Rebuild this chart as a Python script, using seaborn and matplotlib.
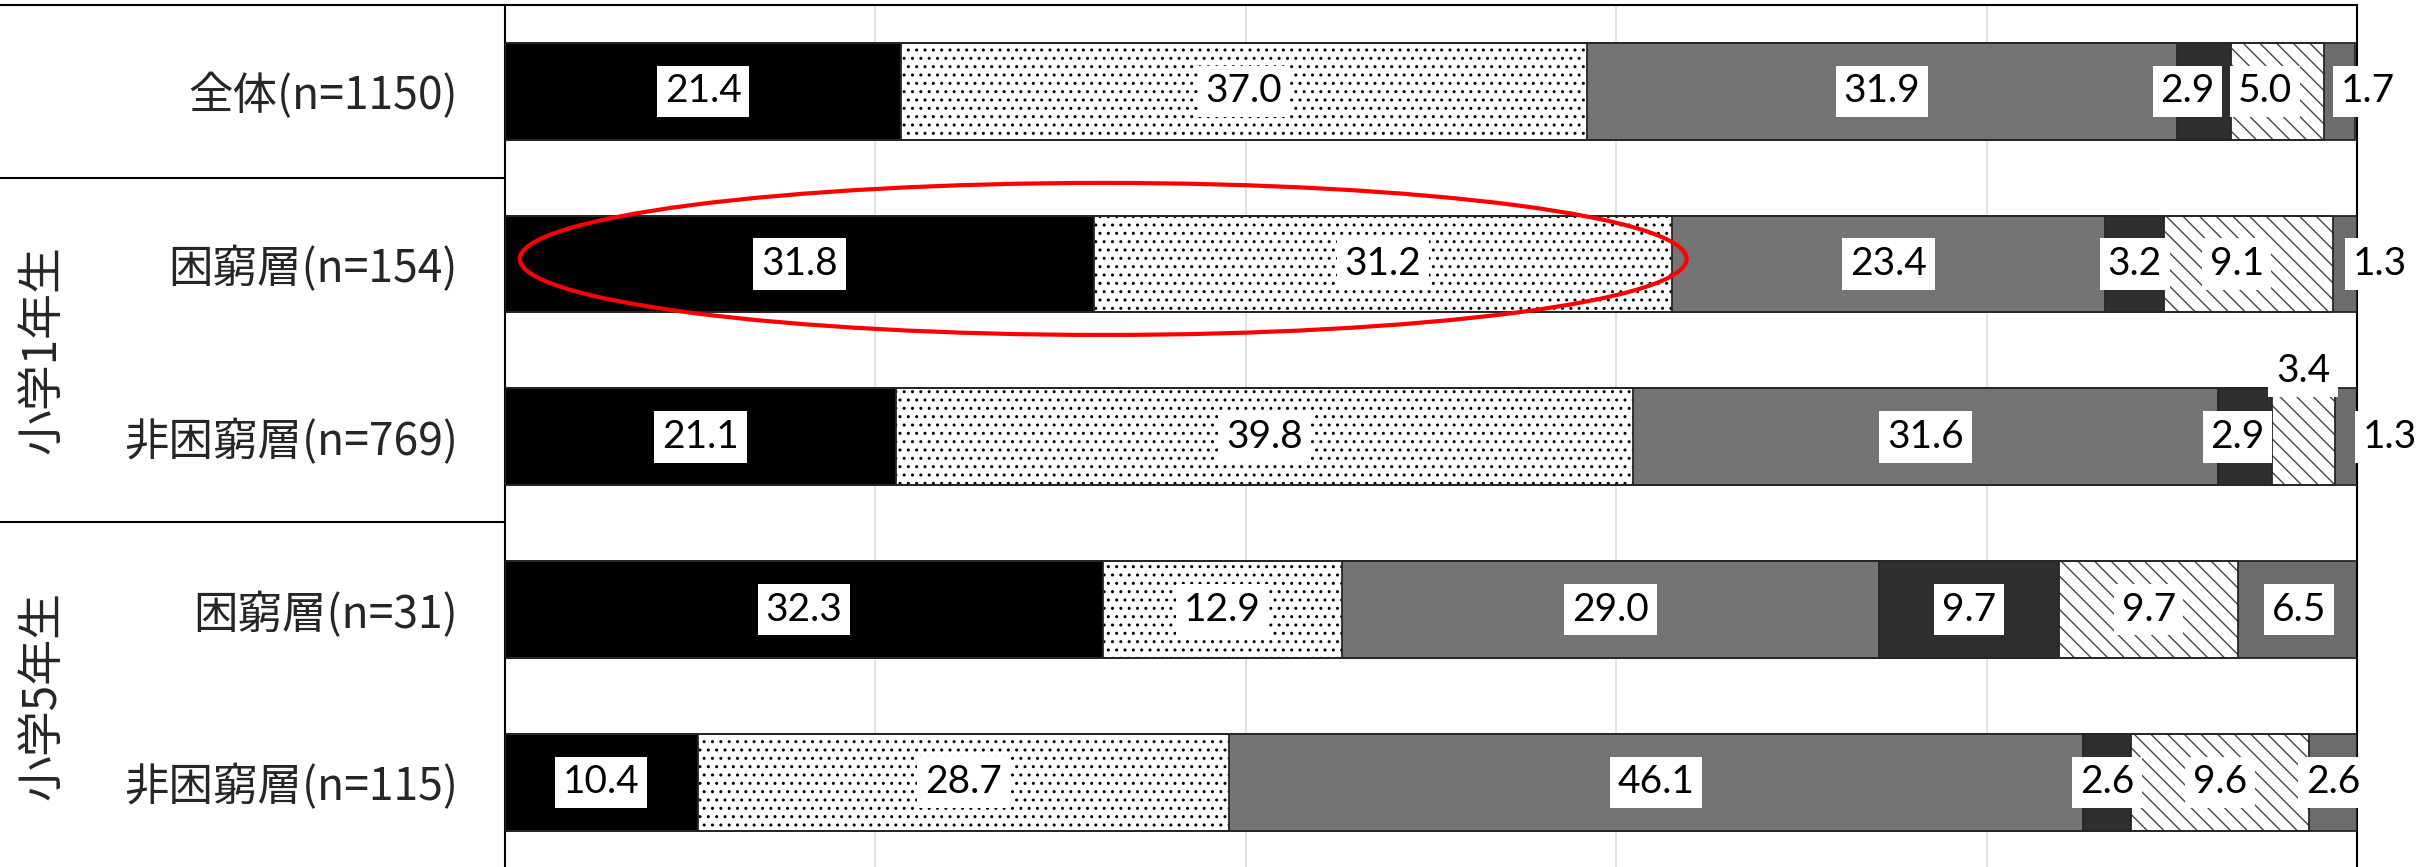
import matplotlib
matplotlib.use("Agg")
import matplotlib.pyplot as plt
from matplotlib.patches import Ellipse
from matplotlib.lines import Line2D
import numpy as np
import pandas as pd
import seaborn as sns

# 行ラベル（上から）
categories = ["全体(n=1150)", "困窮層(n=154)", "非困窮層(n=769)", "困窮層(n=31)", "非困窮層(n=115)"]
groups = ["小学1年生", "小学5年生"]

# 各回答の割合（%）
seg1 = [21.4, 31.8, 21.1, 32.3, 10.4]
seg2 = [37.0, 31.2, 39.8, 12.9, 28.7]
seg3 = [31.9, 23.4, 31.6, 29.0, 46.1]
seg4 = [2.9, 3.2, 2.9, 9.7, 2.6]
seg5 = [5.0, 9.1, 3.4, 9.7, 9.6]
seg6 = [1.7, 1.3, 1.3, 6.5, 2.6]

# 模様（塗り, 網掛け, 網掛けの色）
styles = [
    ("black", None, "black"),
    ("white", "..", "black"),
    ("#747474", None, "black"),
    ("#2e2e2e", None, "black"),
    ("white", "\\\\", "#444444"),
    ("#6c6c6c", None, "black"),
]

# 小さいラベルのずらし (行, 項目) -> (dx %, dy 行)
label_shift = {
    (0, 3): (-0.9, 0), (0, 4): (-0.65, 0), (0, 5): (1.55, 0),
    (1, 4): (-0.65, 0), (1, 5): (1.9, 0),
    (2, 3): (-0.4, 0), (2, 4): (0, -0.38), (2, 5): (2.3, 0),
}

sns.set_theme(style="white")
plt.rcParams["font.family"] = ["Noto Sans CJK JP", "DejaVu Sans"]
plt.rcParams["hatch.linewidth"] = 1.0

vals = np.array([seg1, seg2, seg3, seg4, seg5, seg6]).T
cum = vals.cumsum(axis=1)

fig = plt.figure(figsize=(24.32, 8.67), dpi=100)
ax = fig.add_axes([505 / 2432, 0, (2357 - 505) / 2432, 1 - 5 / 867])

# 積み上げ：累積値を長い方から重ね描き
for i in range(5, -1, -1):
    face, hatch, hcol = styles[i]
    df = pd.DataFrame({"cat": categories, "val": cum[:, i]})
    sns.barplot(data=df, x="val", y="cat", orient="h", color=face, saturation=1,
                width=0.56, hatch=hatch, edgecolor=hcol, linewidth=0, ax=ax, zorder=2)
for i in range(5, -1, -1):
    df = pd.DataFrame({"cat": categories, "val": cum[:, i]})
    sns.barplot(data=df, x="val", y="cat", orient="h", color="#262626", fill=False,
                width=0.56, linewidth=1.3, ax=ax, zorder=3)

# 値ラベル
for r in range(len(categories)):
    for i in range(6):
        dx, dy = label_shift.get((r, i), (0, 0))
        x = cum[r, i] - vals[r, i] / 2 + dx
        ax.text(x, r + dy, f"{vals[r, i]:.1f}", ha="center", va="center",
                fontsize=28, family="Lato", color="black", zorder=5,
                bbox=dict(boxstyle="square,pad=0.2", fc="white", ec="none"))

# 赤い楕円（困窮層 小1 の上位2項目）
ax.add_patch(Ellipse((cum[1, 1] / 2 + 0.8, 1 - 0.03), cum[1, 1], 0.88,
                     fill=False, ec="#ff0000", lw=3, zorder=6, clip_on=False))

ax.set_xlim(0, 100)
ax.set_ylim(4.49, -0.5)
ax.set_xticks([20, 40, 60, 80])
ax.xaxis.grid(True, color="#d9d9d9", lw=1.1)
ax.set_axisbelow(True)
ax.tick_params(axis="x", length=0, labelbottom=False)
ax.tick_params(axis="y", length=0, pad=34, labelsize=32)
ax.set_xlabel("")
ax.set_ylabel("")
for s in ["left", "right", "top"]:
    ax.spines[s].set_visible(True)
    ax.spines[s].set_color("black")
    ax.spines[s].set_linewidth(1.5)
ax.spines["bottom"].set_visible(False)

# 左側の表の区切り線とグループ名
for yp in [5, 178, 522]:
    fig.add_artist(Line2D([0, 505 / 2432], [1 - yp / 867] * 2, color="black", lw=1.5))
fig.text(42 / 2432, 1 - 350 / 867, groups[0], rotation=90, ha="center", va="center", fontsize=33)
fig.text(42 / 2432, 1 - 695 / 867, groups[1], rotation=90, ha="center", va="center", fontsize=33)

fig.savefig("out.png", dpi=100)
